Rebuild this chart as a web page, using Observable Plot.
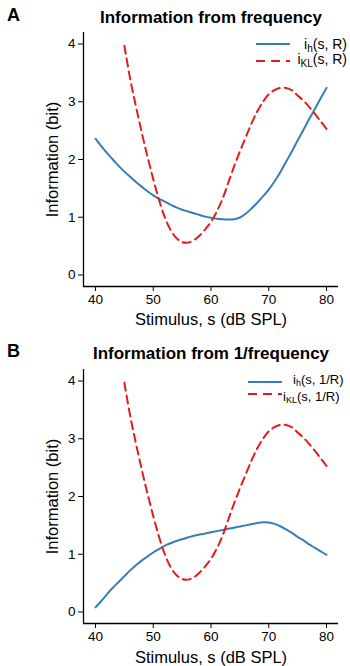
<!DOCTYPE html>
<html>
<head>
<meta charset="utf-8">
<script src="https://cdn.jsdelivr.net/npm/d3@7"></script>
<script src="https://cdn.jsdelivr.net/npm/@observablehq/plot@0.6"></script>
<style>
  html, body { margin: 0; padding: 0; background: white; }
  body { width: 350px; height: 666px; overflow: hidden; position: relative;
         font-family: "Liberation Sans", Arial, Helvetica, sans-serif; color: black; }
  .panel { position: absolute; left: 0; width: 350px; height: 333px; }
  .panel svg g[aria-label*="axis"], .panel svg g[aria-label*="axis"] text { font-size: 13.5px !important; }
  .leg { position: absolute; font-size: 14px; line-height: 12px; height: 12px; white-space: nowrap; }
  .leg sub { font-size: 10px; vertical-align: -3px; line-height: 0; }
  .legB { font-size: 13px; }
  .legB sub { font-size: 9px; vertical-align: -2px; }
  .sw { position: absolute; width: 34px; height: 10px; }
</style>
</head>
<body>
<div id="A" class="panel" style="top:0"></div>
<div id="B" class="panel" style="top:333px"></div>
<script>
// ---- data ----
const stimulus = [40,41,42,43,44,45,46,47,48,49,50,51,52,53,54,55,56,57,58,59,60,
                  61,62,63,64,65,66,67,68,69,70,71,72,73,74,75,76,77,78,79,80];
const ihR = [2.36,2.23,2.11,2.00,1.89,1.79,1.70,1.61,1.53,1.45,1.38,1.32,1.27,1.22,1.17,1.13,1.10,1.07,1.04,1.01,0.99,
             0.975,0.965,0.96,0.965,0.995,1.06,1.15,1.25,1.36,1.48,1.62,1.78,1.96,2.14,2.33,2.51,2.70,2.88,3.06,3.24];
const ihInvR = [0.08,0.19,0.31,0.42,0.52,0.62,0.72,0.81,0.89,0.96,1.03,1.09,1.15,1.19,1.23,1.26,1.29,1.32,1.34,1.36,1.38,
                1.40,1.42,1.44,1.46,1.48,1.50,1.52,1.54,1.555,1.55,1.525,1.485,1.43,1.37,1.30,1.24,1.17,1.11,1.05,0.99];
const stimulusKL = [45,46,47,48,49,50,51,52,53,54,55,56,57,58,59,60,61,62,63,64,65,66,67,68,69,70,71,72,73,74,75,76,77,78,79,80];
const iKL = [3.97,3.40,2.92,2.47,2.05,1.66,1.30,1.00,0.78,0.64,0.57,0.56,0.60,0.68,0.79,0.92,1.10,1.32,1.60,1.88,2.14,2.38,
             2.62,2.83,3.00,3.13,3.20,3.24,3.24,3.20,3.11,3.02,2.91,2.79,2.66,2.53];
const xTicks = [40,50,60,70,80];
const yTicks = [0,1,2,3,4];
const titles = ["Information from frequency", "Information from 1/frequency"];
const letters = ["A", "B"];
const xLabel = "Stimulus, s (dB SPL)";
const yLabel = "Information (bit)";
const legendA = [["i", "h", "(s, R)"], ["i", "KL", "(s, R)"]];
const legendB = [["i", "h", "(s, 1/R)"], ["i", "KL", "(s, 1/R)"]];

const BLUE = "#377eb8", RED = "#e41a1c";
const xDomain = [37.92, 82.08], yDomain = [-0.2, 4.2];
const font = "'Liberation Sans', Arial, Helvetica, sans-serif";

function panel(title, letter, blueVals, mTop, mBottom, titleDy, xLabDy) {
  const blue = stimulus.map((s, i) => ({s, v: blueVals[i]}));
  const red = stimulusKL.map((s, i) => ({s, v: iKL[i]}));
  return Plot.plot({
    width: 350, height: 333,
    marginTop: mTop, marginBottom: mBottom, marginLeft: 83, marginRight: 12,
    style: {fontFamily: font, fontSize: "13.5px", color: "black", background: "white", overflow: "visible"},
    x: {domain: xDomain, ticks: xTicks, tickSize: 5, tickPadding: 3, tickFormat: "d", label: null},
    y: {domain: yDomain, ticks: yTicks, tickSize: 5, tickPadding: 3, tickFormat: "d", label: null},
    marks: [
      Plot.ruleX([xDomain[0]], {stroke: "black", strokeWidth: 1.3}),
      Plot.ruleY([yDomain[0]], {stroke: "black", strokeWidth: 1.3}),
      Plot.line(blue, {x: "s", y: "v", stroke: BLUE, strokeWidth: 2, curve: "catmull-rom"}),
      Plot.line(red, {x: "s", y: "v", stroke: RED, strokeWidth: 2, strokeDasharray: "8,5", curve: "catmull-rom"}),
      Plot.text([title], {text: d => d, frameAnchor: "top", dy: titleDy, lineAnchor: "middle", textAnchor: "middle",
                          fontWeight: "bold", fontSize: 17, fill: "black"}),
      Plot.text([letter], {text: d => d, frameAnchor: "top-left", dx: -70, dy: titleDy - 2, lineAnchor: "middle",
                           textAnchor: "middle", fontWeight: "bold", fontSize: 18, fill: "black"}),
      Plot.text([xLabel], {text: d => d, frameAnchor: "bottom", dy: xLabDy, lineAnchor: "middle", textAnchor: "middle",
                           fontSize: 16.5, fill: "black"}),
      Plot.text([yLabel], {text: d => d, frameAnchor: "left", dx: -31, rotate: -90, lineAnchor: "middle",
                           textAnchor: "middle", fontSize: 16.5, fill: "black"})
    ]
  });
}

document.getElementById("A").append(panel(titles[0], letters[0], ihR, 32, 47, -15, 33));
document.getElementById("B").append(panel(titles[1], letters[1], ihInvR, 36, 43, -16, 34));

// ---- legends (HTML, so subscripts are real text) ----
function swatch(color, dashed, left, cy) {
  const ns = "http://www.w3.org/2000/svg";
  const svg = document.createElementNS(ns, "svg");
  svg.setAttribute("class", "sw");
  svg.setAttribute("width", 34); svg.setAttribute("height", 10);
  svg.style.left = left + "px"; svg.style.top = (cy - 5) + "px";
  const l = document.createElementNS(ns, "line");
  l.setAttribute("x1", 0); l.setAttribute("x2", 34); l.setAttribute("y1", 5); l.setAttribute("y2", 5);
  l.setAttribute("stroke", color); l.setAttribute("stroke-width", 2);
  if (dashed) l.setAttribute("stroke-dasharray", "9,6");
  svg.append(l);
  document.body.append(svg);
}
function label(parts, pos, cy, cls) {
  const d = document.createElement("div");
  d.className = "leg" + (cls ? " " + cls : "");
  d.style.top = (cy - 6) + "px";
  Object.assign(d.style, pos);
  d.append(parts[0]);
  const sub = document.createElement("sub"); sub.textContent = parts[1]; d.append(sub);
  d.append(parts[2]);
  document.body.append(d);
}
swatch(BLUE, false, 256, 44); label(legendA[0], {right: "3px"}, 44);
swatch(RED, true, 256, 61);   label(legendA[1], {right: "3px"}, 59);
swatch(BLUE, false, 248, 382); label(legendB[0], {left: "293px"}, 380, "legB");
swatch(RED, true, 248, 394);   label(legendB[1], {left: "283px"}, 397, "legB");
</script>
</body>
</html>
